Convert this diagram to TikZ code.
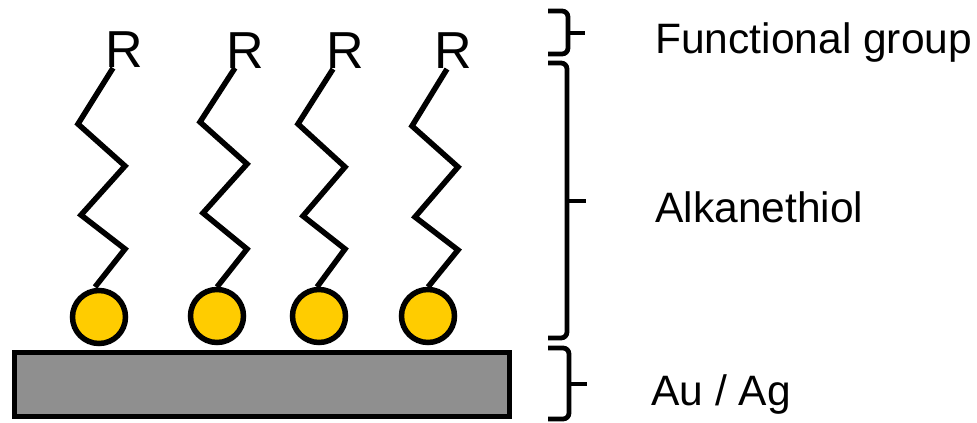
\documentclass[tikz,border=0pt]{standalone}
\usepackage{fontspec}
\setmainfont{Liberation Sans}
\usepackage{tikz}
\definecolor{guld}{RGB}{255,204,0}
\definecolor{metal}{RGB}{143,143,143}
\tikzset{
	kaede/.style={black, line width=1.1mm},
	tuborg/.style={black, line width=0.95mm, rounded corners=1.2mm},
	tekst/.style={anchor=base west, inner sep=0pt, font=\fontsize{24.2}{28}\selectfont},
	rgruppe/.style={anchor=base, inner sep=0pt, font=\fontsize{29.6}{34}\selectfont}
}

\begin{document}
\begin{tikzpicture}[x=0.2mm, y=-0.2mm]
\useasboundingbox (0,0) rectangle (977,422)				;

%%%%------------Substrat----------------%%
\draw [black, line width=1.1mm, fill=metal] (14.5,352.5) rectangle (509.5,416.5)	;

%%%%------------Svovl-atomer----------------%%
\draw [black, line width=1.1mm, fill=guld] (99,317) circle [radius=5.3mm]	;
\draw [black, line width=1.1mm, fill=guld] (217,316) circle [radius=5.3mm]	;
\draw [black, line width=1.1mm, fill=guld] (319,316) circle [radius=5.3mm]	;
\draw [black, line width=1.1mm, fill=guld] (428,316) circle [radius=5.3mm]	;

%%%-------------Kaeder-------------%%%
\draw [kaede] (113,68) -- (78,124) -- (125,166) -- (81,215) -- (125,249) -- (95,287)		;
\draw [kaede] (235,68) -- (200,122) -- (247,164) -- (203,213) -- (247,249) -- (217,287)	;
\draw [kaede] (333,69) -- (298,124) -- (345,167) -- (303,216) -- (345,249) -- (317,287)	;
\draw [kaede] (447,69) -- (412,126) -- (458,167) -- (415,217) -- (458,250) -- (428,287)	;

%%%-------------Funktionelle grupper-------------%%%
\node [rgruppe] (r1) at (124,67) {R}			;
\node [rgruppe] (r2) at (245,68) {R}			;
\node [rgruppe] (r3) at (345,68) {R}			;
\node [rgruppe] (r4) at (453,68) {R}			;

%%%-------------Klammer-------------%%%
\draw [tuborg] (548,11) -- (568,11) -- (568,54) -- (548,54)		;
\draw [black, line width=0.95mm] (568,33) -- (585,33)			;
\draw [tuborg] (548,63) -- (567,63) -- (567,338) -- (548,338)	;
\draw [black, line width=0.95mm] (567,201) -- (586,201)			;
\draw [tuborg] (548,348) -- (569,348) -- (569,419) -- (548,419)	;
\draw [black, line width=0.95mm] (569,384) -- (587,384)			;

%%%-------------Tekster-------------%%%
\node [tekst] (funk) at (655,53) {Functional group}		;
\node [tekst] (alkan) at (655,222) {Alkanethiol}		;
\node [tekst] (metal) at (651,405) {Au / Ag}			;

%\draw [help lines, step=50] (0,0) grid (977,422);
\end{tikzpicture}
\end{document}
